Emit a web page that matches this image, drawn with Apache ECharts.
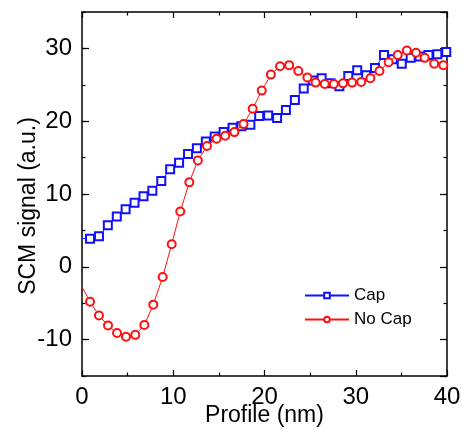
<!DOCTYPE html>
<html><head><meta charset="utf-8">
<script src="https://cdn.jsdelivr.net/npm/echarts@6/dist/echarts.min.js"></script>
<style>html,body{margin:0;padding:0;background:#fff}#c{width:462px;height:434px}</style>
</head><body><div id="c"></div>
<script>
const seriesNames = ['Cap', 'No Cap'];
const capX = [0, 0.88, 1.86, 2.83, 3.81, 4.78, 5.76, 6.74, 7.71, 8.69, 9.66, 10.64, 11.62, 12.59, 13.57, 14.54, 15.52, 16.50, 17.47, 18.45, 19.42, 20.40, 21.38, 22.35, 23.33, 24.30, 25.28, 26.26, 27.23, 28.21, 29.18, 30.16, 31.14, 32.11, 33.09, 34.06, 35.04, 36.02, 36.99, 37.97, 38.94, 39.92];
const capY = [3.9, 3.85, 4.2, 5.7, 6.9, 7.9, 8.8, 9.7, 10.45, 11.8, 13.4, 14.3, 15.5, 16.3, 17.2, 17.9, 18.5, 19.1, 19.3, 19.5, 20.7, 20.8, 20.45, 21.55, 22.9, 24.5, 25.6, 25.9, 25.2, 24.8, 26.2, 27.0, 26.3, 27.3, 29.1, 28.5, 27.9, 28.7, 28.9, 29.1, 29.2, 29.5];
const noCapX = [0, 0.88, 1.86, 2.85, 3.84, 4.82, 5.84, 6.83, 7.81, 8.84, 9.83, 10.77, 11.76, 12.7, 13.7, 14.75, 15.7, 16.7, 17.7, 18.7, 19.7, 20.7, 21.7, 22.7, 23.7, 24.7, 25.6, 26.6, 27.6, 28.6, 29.6, 30.6, 31.6, 32.6, 33.6, 34.6, 35.6, 36.6, 37.55, 38.6, 39.6];
const noCapY = [-2.75, -4.8, -6.7, -8.05, -9.1, -9.6, -9.35, -8.0, -5.2, -1.4, 3.1, 7.6, 11.6, 14.6, 16.6, 17.6, 18.0, 18.5, 19.6, 21.7, 24.2, 26.4, 27.55, 27.7, 26.9, 26.0, 25.3, 25.1, 25.1, 25.2, 25.3, 25.4, 25.9, 26.9, 28.1, 29.1, 29.7, 29.4, 28.7, 27.9, 27.7];
const xRange = [0, 40];
const yRange = [-15, 35];
const xTickStep = 10;
const yMajorStep = 10;
const yMinorStep = 5;

const FONT = 'Liberation Sans, Arial, sans-serif';
const axisLine = {show: true, onZero: false, lineStyle: {color: '#000', width: 1.5}};
const tickStyle = {color: '#000', width: 1.2};

function xAx(pos, main) {
  return {
    type: 'value', position: pos, min: xRange[0], max: xRange[1], interval: xTickStep,
    axisLine: axisLine,
    axisTick: {show: true, inside: true, length: 6, lineStyle: tickStyle},
    minorTick: {show: true, splitNumber: 2, length: 3.5, lineStyle: tickStyle},
    splitLine: {show: false}, minorSplitLine: {show: false},
    axisLabel: main ? {show: true, color: '#000', fontSize: 24, fontFamily: FONT, margin: 9} : {show: false},
    name: main ? 'Profile (nm)' : '', nameLocation: 'middle', nameGap: 28, nameMoveOverlap: false,
    nameTextStyle: {color: '#000', fontSize: 23, fontFamily: FONT, verticalAlign: 'top'}
  };
}
function yMajor(pos, main) {
  return {
    type: 'value', position: pos, offset: 0, min: yRange[0], max: yRange[1], splitNumber: 5,
    axisLine: axisLine,
    axisTick: {show: true, inside: true, length: 7, lineStyle: tickStyle},
    splitLine: {show: false},
    axisLabel: main ? {show: true, color: '#000', fontSize: 24, fontFamily: FONT, margin: 10,
      showMinLabel: false, showMaxLabel: false,
      formatter: v => (Math.abs(v % yMajorStep) < 1e-9 ? String(v) : '')} : {show: false},
    name: main ? 'SCM signal (a.u.)' : '', nameLocation: 'middle', nameGap: 42, nameMoveOverlap: false,
    nameTextStyle: {color: '#000', fontSize: 23, fontFamily: FONT, padding: [0, 24, 0, 0]}
  };
}
function yMinor(pos) {
  return {
    type: 'value', position: pos, offset: 0, min: yRange[0], max: yRange[1], interval: yMinorStep,
    axisLine: {show: false, onZero: false},
    axisTick: {show: true, inside: true, length: 3.5, lineStyle: tickStyle},
    splitLine: {show: false}, axisLabel: {show: false}
  };
}

const chart = echarts.init(document.getElementById('c'), null, {renderer: 'canvas'});
chart.setOption({
  animation: false,
  backgroundColor: '#fff',
  grid: {left: 82, right: 15, top: 12, bottom: 58, containLabel: false, outerBoundsMode: 'none'},
  xAxis: [xAx('bottom', true), xAx('top', false)],
  yAxis: [yMajor('left', true), yMinor('left'), yMajor('right', false), yMinor('right')],
  legend: {
    orient: 'vertical', left: 299, top: 282, padding: 5, itemWidth: 44, itemHeight: 7, itemGap: 7,
    data: seriesNames,
    textStyle: {color: '#000', fontSize: 17, fontFamily: FONT, lineHeight: 16}
  },
  series: [
    {
      name: seriesNames[0], type: 'line', xAxisIndex: 0, yAxisIndex: 0,
      data: capX.map((x, i) => [x, capY[i]]),
      symbol: 'emptyRect', symbolSize: (v, p) => (p.dataIndex === 0 ? 0 : 8),
      itemStyle: {color: '#1010ff', borderWidth: 1},
      lineStyle: {color: '#1010ff', width: 1},
      clip: false, z: 3
    },
    {
      name: seriesNames[1], type: 'line', xAxisIndex: 0, yAxisIndex: 0,
      data: noCapX.map((x, i) => [x, noCapY[i]]),
      symbol: 'emptyCircle', symbolSize: (v, p) => (p.dataIndex === 0 ? 0 : 8),
      itemStyle: {color: '#ff1010', borderWidth: 1},
      lineStyle: {color: '#ff1010', width: 1},
      clip: false, z: 4
    }
  ]
});
</script>
</body></html>
